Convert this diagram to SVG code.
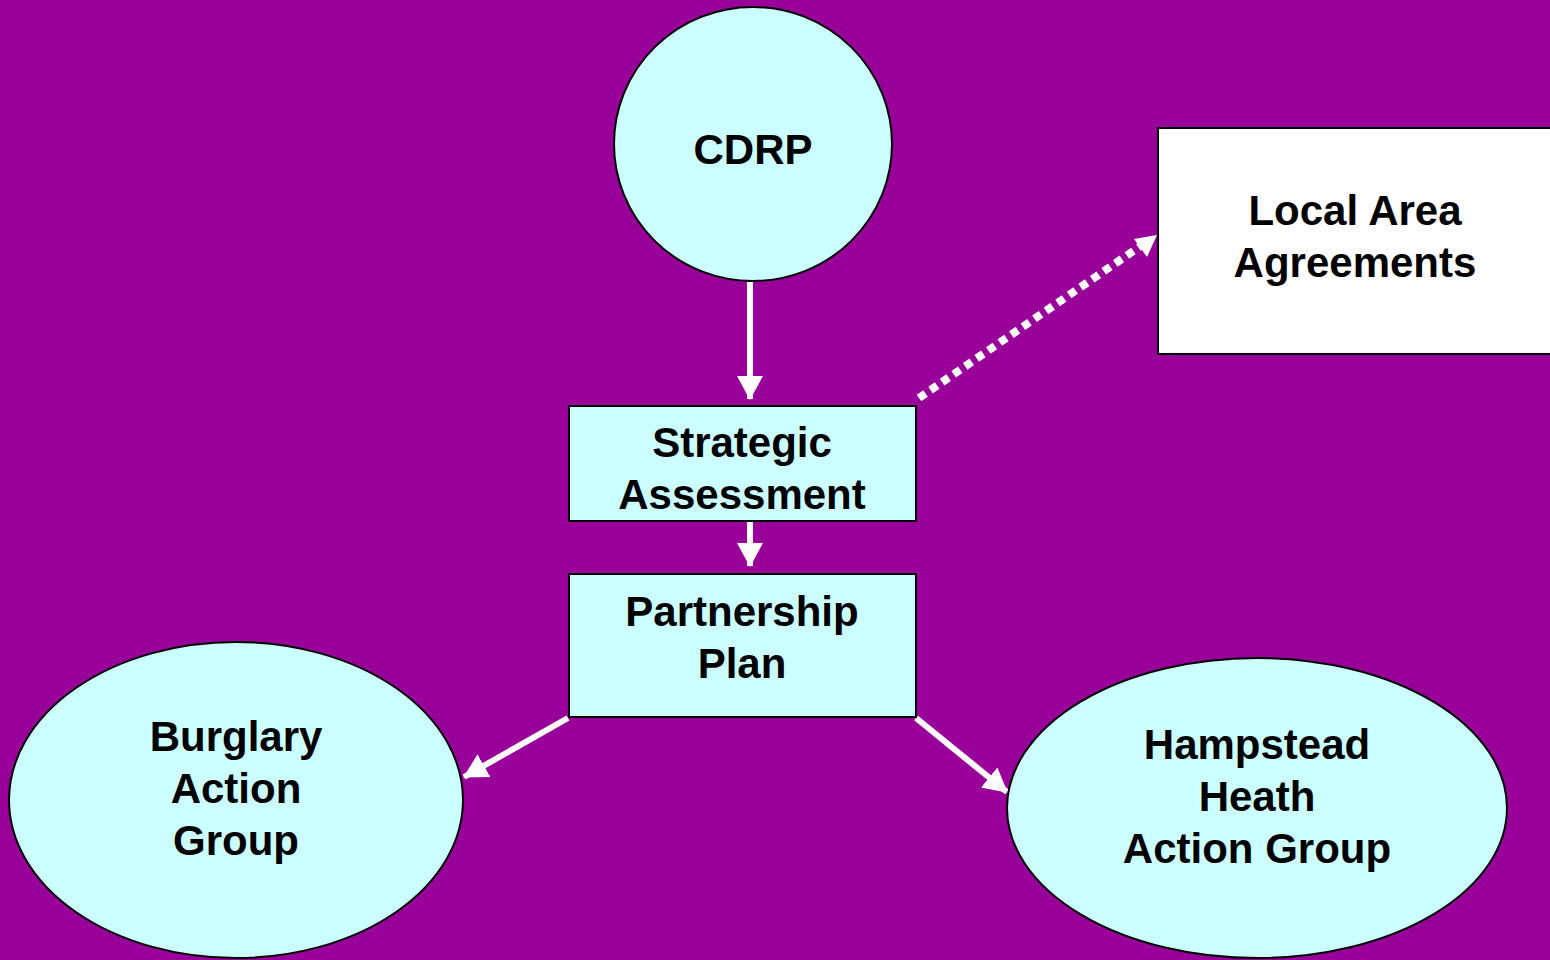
<svg xmlns="http://www.w3.org/2000/svg" width="1550" height="960" viewBox="0 0 1550 960">
<style>
.node{fill:#CCFFFF;stroke:#000;stroke-width:2}
.white{fill:#FFFFFF;stroke:#000;stroke-width:2}
.t{font-family:"Liberation Sans",Arial,sans-serif;font-weight:bold;font-size:42px;fill:#000;text-anchor:middle}
.c{stroke:#FFFFFF;stroke-width:6;fill:none}
.d{stroke:#FFFFFF;stroke-width:8;fill:none;stroke-dasharray:8 6}
</style>
<defs>
<marker id="ah" markerUnits="userSpaceOnUse" markerWidth="24" markerHeight="26" refX="23" refY="13" orient="auto" viewBox="0 0 24 26">
<path d="M0,0 L24,13 L0,26 z" fill="#FFFFFF"/>
</marker>
</defs>
<rect x="0" y="0" width="1550" height="960" fill="#990099"/>
<g id="connectors">
<line class="c" x1="750" y1="282" x2="750" y2="399" marker-end="url(#ah)"/>
<line class="c" x1="750" y1="521" x2="750" y2="566" marker-end="url(#ah)"/>
<line class="d" x1="919" y1="398" x2="1145" y2="243"/>
<path d="M1157,235 L1147,257 L1134,239 z" fill="#FFFFFF"/>
<line class="c" x1="568" y1="718" x2="464" y2="777" marker-end="url(#ah)"/>
<line class="c" x1="916" y1="718" x2="1007" y2="792" marker-end="url(#ah)"/>
</g>
<g id="cdrp">
<ellipse class="node" cx="753" cy="144" rx="139" ry="137"/>
<text class="t" x="753" y="164">CDRP</text>
</g>
<g id="laa">
<rect class="white" x="1158" y="128" width="420" height="226"/>
<text class="t" x="1355" y="225">Local Area</text>
<text class="t" x="1355" y="277">Agreements</text>
</g>
<g id="sa">
<rect class="node" x="569" y="406" width="347" height="115"/>
<text class="t" x="742" y="457">Strategic</text>
<text class="t" x="742" y="509">Assessment</text>
</g>
<g id="pp">
<rect class="node" x="569" y="574" width="347" height="143"/>
<text class="t" x="742" y="626">Partnership</text>
<text class="t" x="742" y="678">Plan</text>
</g>
<g id="burglary">
<ellipse class="node" cx="236" cy="800" rx="227" ry="158"/>
<text class="t" x="236" y="751">Burglary</text>
<text class="t" x="236" y="803">Action</text>
<text class="t" x="236" y="855">Group</text>
</g>
<g id="hampstead">
<ellipse class="node" cx="1257" cy="808" rx="250" ry="150"/>
<text class="t" x="1257" y="759">Hampstead</text>
<text class="t" x="1257" y="811">Heath</text>
<text class="t" x="1257" y="863">Action Group</text>
</g>
</svg>
